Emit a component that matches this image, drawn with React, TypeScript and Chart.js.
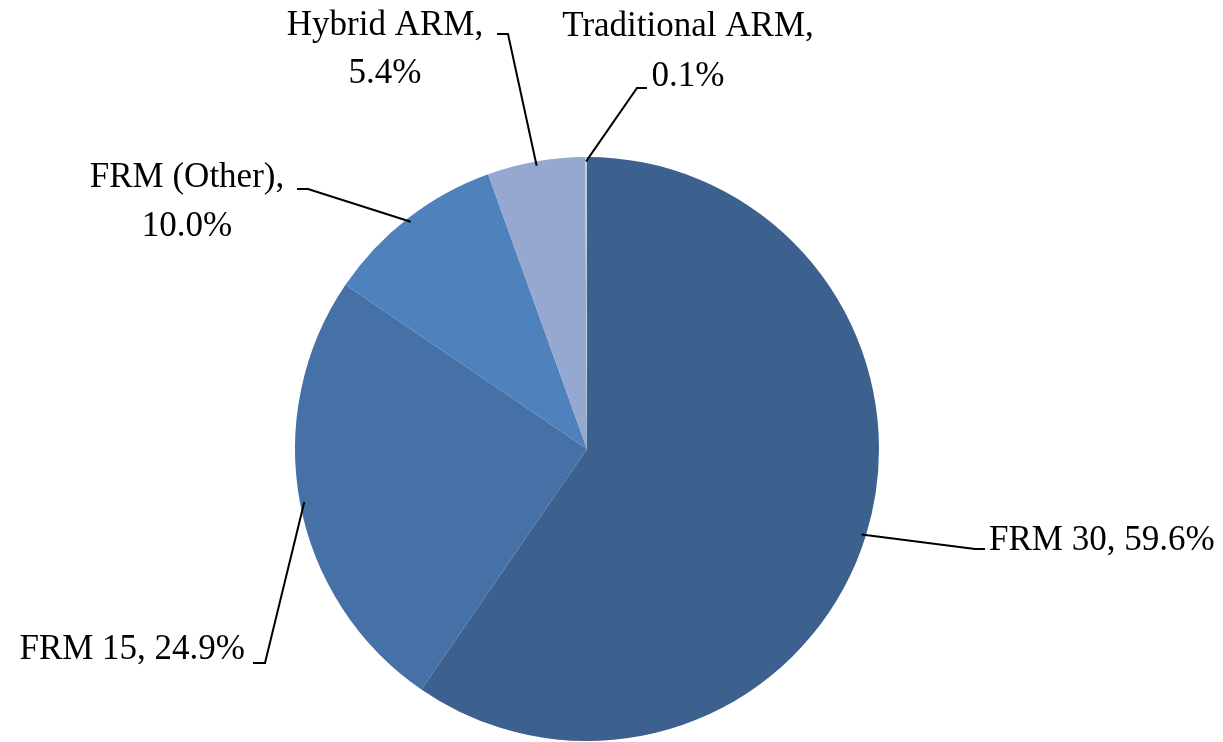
import React, { useEffect, useRef } from "react";
import { Chart, registerables } from "chart.js";

Chart.register(...registerables);

const categories = ["FRM 30", "FRM 15", "FRM (Other)", "Hybrid ARM", "Traditional ARM"];
const shares = [59.6, 24.9, 10.0, 5.4, 0.1];
const sliceColors = ["#3C618F", "#4571A7", "#4F81BD", "#95A9D0", "#BCCAE4"];

// label layout: leader elbow/end points, text anchor and baselines, two-line or not
const labelLayout = [
  { elbow: [975, 549], end: [985, 549], x: 989, align: "left", baselines: [550], split: false },
  { elbow: [265, 663], end: [253, 663], x: 245, align: "right", baselines: [659], split: false },
  { elbow: [308, 189], end: [297, 189], x: 187, align: "center", baselines: [187, 236], split: true },
  { elbow: [508, 34], end: [497, 34], x: 385, align: "center", baselines: [35, 83], split: true },
  { elbow: [637, 88], end: [647, 88], x: 688, align: "center", baselines: [36, 86], split: true },
];

const labelPlugin = {
  id: "pieLabels",
  afterDraw(chart: any) {
    const ctx = chart.ctx as CanvasRenderingContext2D;
    const meta = chart.getDatasetMeta(0);
    ctx.save();
    meta.data.forEach((arc: any, i: number) => {
      const p = arc.getProps(["x", "y", "startAngle", "endAngle", "outerRadius"], true);
      const mid = (p.startAngle + p.endAngle) / 2;
      const r = p.outerRadius * 0.985;
      const ax = p.x + Math.cos(mid) * r;
      const ay = p.y + Math.sin(mid) * r;
      const L = labelLayout[i];
      ctx.strokeStyle = "#000";
      ctx.lineWidth = 2;
      ctx.beginPath();
      ctx.moveTo(ax, ay);
      ctx.lineTo(L.elbow[0], L.elbow[1]);
      ctx.lineTo(L.end[0], L.end[1]);
      ctx.stroke();
      const val = shares[i].toFixed(1) + "%";
      const lines = L.split ? [categories[i] + ",", val] : [categories[i] + ", " + val];
      ctx.fillStyle = "#000";
      ctx.font = '35px "Liberation Serif"';
      ctx.textAlign = L.align as CanvasTextAlign;
      ctx.textBaseline = "alphabetic";
      lines.forEach((t, j) => ctx.fillText(t, L.x, L.baselines[j]));
    });
    ctx.restore();
  },
};

export default function App() {
  const ref = useRef<HTMLCanvasElement>(null);
  useEffect(() => {
    if (!ref.current) return;
    const chart = new Chart(ref.current, {
      type: "pie",
      data: {
        labels: categories,
        datasets: [
          {
            data: shares,
            backgroundColor: sliceColors,
            borderWidth: 0,
            hoverOffset: 0,
          },
        ],
      },
      options: {
        responsive: false,
        animation: false,
        rotation: 0,
        layout: { padding: { top: 157, bottom: 1, left: 0, right: 49 } },
        plugins: {
          legend: { display: false },
          tooltip: { enabled: false },
        },
      },
      plugins: [labelPlugin],
    });
    return () => chart.destroy();
  }, []);
  return (
    <div style={{ position: "fixed", left: 0, top: 0, width: 1223, height: 742, background: "#fff" }}>
      <canvas ref={ref} width={1223} height={742} style={{ display: "block" }} />
    </div>
  );
}
